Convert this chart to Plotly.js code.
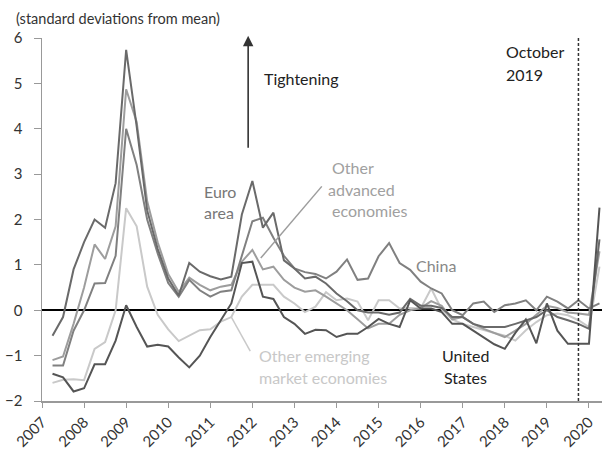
<!DOCTYPE html>
<html>
<head>
<meta charset="utf-8">
<script src="https://cdn.plot.ly/plotly-3.0.1.min.js"></script>
<style>html,body{margin:0;padding:0;background:#fff;}#chart{width:604px;height:451px;}</style>
</head>
<body>
<div id="chart"></div>
<script>
// quarterly observations, 2007 Q2 .. 2020 Q2 (decimal year positions)
const quarters = [];
for (let i = 0; i < 53; i++) quarters.push(2007.25 + i * 0.25);

const euroArea = [-0.56,-0.15,0.9,1.5,2.0,1.82,2.8,5.74,4.05,2.2,1.35,0.7,0.32,1.04,0.85,0.75,0.68,0.74,2.11,2.85,1.82,2.15,1.1,0.92,0.7,0.74,0.59,0.37,0.2,0.0,-0.05,-0.05,-0.1,-0.05,0.25,0.1,0.1,0.05,-0.15,-0.15,-0.3,-0.37,-0.37,-0.37,-0.3,-0.22,-0.15,0.0,-0.15,-0.22,-0.3,-0.41,1.56];
const otherAdvanced = [-1.1,-1.02,-0.3,0.5,1.45,1.13,1.85,4.87,4.15,2.4,1.5,0.8,0.4,0.72,0.56,0.44,0.52,0.56,1.07,1.33,0.9,0.96,0.67,0.5,0.41,0.44,0.3,0.15,0.0,-0.2,-0.4,-0.3,-0.3,-0.1,0.0,0.05,0.2,0.1,-0.2,-0.15,-0.3,-0.41,-0.5,-0.59,-0.45,-0.3,-0.1,0.1,0.05,-0.05,-0.07,-0.1,1.3];
const china = [-1.22,-1.22,-0.45,0.0,0.59,0.6,1.2,4.0,3.2,2.0,1.25,0.6,0.3,0.67,0.44,0.3,0.41,0.44,1.2,1.96,2.04,1.6,1.2,0.92,0.84,0.8,0.7,0.85,1.12,0.67,0.7,1.19,1.48,1.04,0.89,0.63,0.48,0.37,0.0,-0.11,0.15,0.19,-0.04,0.11,0.15,0.22,0.0,0.3,0.19,0.04,0.22,0.04,0.15];
const otherEmerging = [-1.6,-1.53,-1.52,-1.54,-0.85,-0.7,0.0,2.25,1.85,0.52,-0.1,-0.42,-0.68,-0.56,-0.44,-0.42,-0.25,-0.15,0.3,0.56,0.56,0.56,0.3,0.15,-0.04,0.08,0.4,0.22,0.26,0.19,-0.22,0.22,0.22,0.04,0.05,0.04,0.48,0.02,-0.2,-0.3,-0.37,-0.44,-0.5,-0.56,-0.67,-0.44,-0.26,-0.11,-0.07,-0.11,-0.22,-0.37,0.96];
const unitedStates = [-1.4,-1.48,-1.79,-1.72,-1.19,-1.19,-0.67,0.11,-0.37,-0.8,-0.76,-0.8,-1.04,-1.26,-1.0,-0.59,-0.22,0.15,1.04,1.07,0.3,0.25,-0.15,-0.3,-0.52,-0.43,-0.44,-0.59,-0.52,-0.52,-0.37,-0.19,-0.3,-0.37,0.22,0.04,0.04,-0.04,-0.3,-0.3,-0.45,-0.6,-0.75,-0.85,-0.5,-0.2,-0.73,0.15,-0.45,-0.74,-0.74,-0.74,2.26];

const yearTicks = [2007,2008,2009,2010,2011,2012,2013,2014,2015,2016,2017,2018,2019,2020];
const yearLabels = yearTicks.map(String);
const yTicks = [-2,-1,0,1,2,3,4,5,6];

const FONT = 'Lato, "Open Sans", sans-serif';

function line(name, y, color) {
  return {x: quarters, y: y, name: name, type: 'scatter', mode: 'lines',
          line: {color: color, width: 2}, hoverinfo: 'skip'};
}
const traces = [
  line('Other emerging market economies', otherEmerging, '#c9c9c9'),
  line('Other advanced economies', otherAdvanced, '#9d9d9d'),
  line('China', china, '#808080'),
  line('Euro area', euroArea, '#6a6a6a'),
  line('United States', unitedStates, '#555555')
];

function txt(text, x, y, color, anchor) {
  return {text: text, x: x, y: y, xref: 'x', yref: 'y', showarrow: false,
          xanchor: anchor || 'left', yanchor: 'middle',
          font: {family: FONT, size: 16, color: color}};
}

const layout = {
  width: 604, height: 451,
  margin: {l: 42, r: 2, t: 38, b: 50},
  paper_bgcolor: '#fff', plot_bgcolor: '#fff',
  showlegend: false,
  font: {family: FONT, size: 15, color: '#333'},
  xaxis: {range: [2007, 2020.31], tickvals: yearTicks, ticktext: yearLabels,
          tickangle: -45, showgrid: false, zeroline: false, showline: true,
          linecolor: '#999', linewidth: 1.5, ticks: 'outside', ticklen: 5,
          tickcolor: '#999', tickfont: {family: FONT, size: 15, color: '#333'}},
  yaxis: {range: [-2, 6], tickvals: yTicks, showgrid: false, zeroline: true,
          zerolinecolor: '#000', zerolinewidth: 1.6, showline: true,
          linecolor: '#999', linewidth: 1.5, ticks: 'outside', ticklen: 7,
          ticklabelstandoff: 8,
          tickcolor: '#999', tickfont: {family: FONT, size: 15, color: '#333'}},
  shapes: [
    {type: 'line', xref: 'x', yref: 'paper', x0: 2019.75, x1: 2019.75, y0: 0, y1: 1,
     line: {color: '#333', width: 1.5, dash: '3px,2px'}},
    {type: 'line', xref: 'x', yref: 'y', x0: 2013.65, y0: 2.73, x1: 2012.2, y1: 1.15,
     line: {color: '#9d9d9d', width: 1.5}},
    {type: 'line', xref: 'x', yref: 'y', x0: 2011.95, y0: -0.9, x1: 2011.5, y1: -0.15,
     line: {color: '#c9c9c9', width: 1.5}}
  ],
  annotations: [
    {text: '(standard deviations from mean)', xref: 'paper', yref: 'paper',
     x: 0, y: 1, xshift: -28, yshift: 20, xanchor: 'left', yanchor: 'middle', showarrow: false,
     font: {family: FONT, size: 14.5, color: '#333'}},
    {x: 2011.9, y: 6.05, ax: 2011.9, ay: 3.55, xref: 'x', yref: 'y', axref: 'x', ayref: 'y',
     text: '', showarrow: true, arrowhead: 2, arrowsize: 1.3, arrowwidth: 1.6, arrowcolor: '#333'},
    txt('Tightening', 2012.23, 5.1, '#222'),
    txt('October', 2017.98, 5.7, '#222'),
    txt('2019', 2017.98, 5.19, '#222'),
    txt('Euro', 2010.8, 2.62, '#777'),
    txt('area', 2010.8, 2.15, '#777'),
    txt('Other', 2013.85, 3.15, '#a0a0a0'),
    txt('advanced', 2013.75, 2.66, '#a0a0a0'),
    txt('economies', 2013.85, 2.19, '#a0a0a0'),
    txt('China', 2015.85, 0.99, '#888'),
    txt('Other emerging', 2012.1, -1.0, '#c8c8c8'),
    txt('market economies', 2012.1, -1.49, '#c8c8c8'),
    txt('United', 2016.45, -1.0, '#222'),
    txt('States', 2016.5, -1.49, '#222')
  ]
};

Plotly.newPlot('chart', traces, layout, {displayModeBar: false, staticPlot: true});
</script>
</body>
</html>
